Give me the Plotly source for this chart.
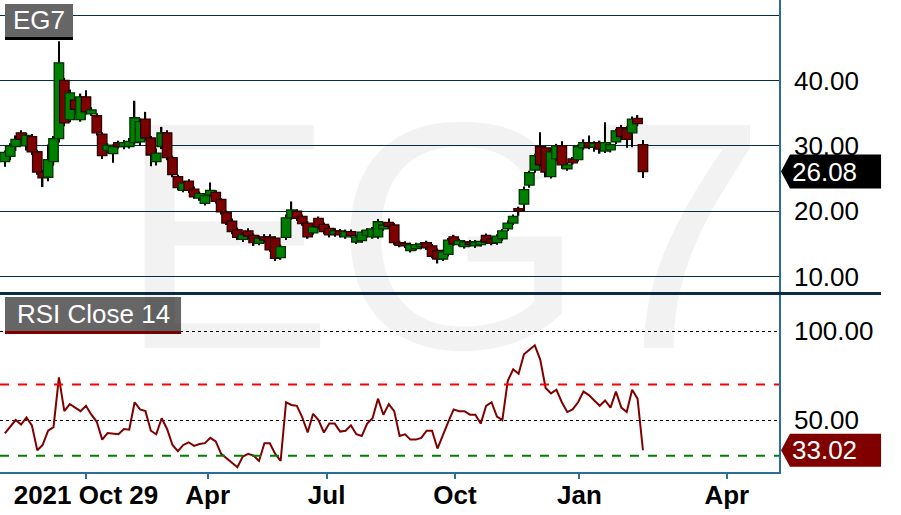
import pandas as pd
import plotly.graph_objects as go
from plotly.subplots import make_subplots

opens = [27.6, 28.4, 29.9, 32.0, 30.0, 31.4, 29.1, 26.0, 25.2, 27.6,
         31.1, 40.0, 34.0, 37.0, 34.0, 37.5, 34.9, 34.6, 31.8, 29.3,
         28.8, 30.5, 29.9, 29.9, 30.5, 30.6, 34.1, 31.2, 27.6, 29.9,
         32.0, 28.2, 25.3, 23.2, 24.6, 23.4, 22.0, 21.2, 22.5, 22.9,
         21.8, 19.8, 18.5, 17.2, 15.7, 17.0, 16.3, 15.1, 16.1, 16.1,
         15.9, 12.9, 16.0, 19.0, 20.0, 19.2, 18.2, 16.7, 18.9, 18.0,
         17.4, 16.5, 17.0, 16.1, 16.9, 15.3, 15.5, 16.3, 16.1, 16.1,
         17.3, 18.3, 17.9, 15.2, 15.1, 14.0, 14.3, 14.6, 15.2, 14.7,
         14.0, 12.7, 13.4, 16.1, 14.9, 14.6, 15.3, 14.7, 14.9, 16.3,
         15.8, 15.2, 15.8, 17.3, 18.2, 20.4, 21.1, 24.0, 26.3, 29.9,
         29.7, 25.3, 28.0, 30.0, 26.5, 28.0, 27.9, 29.7, 30.5, 29.8,
         30.5, 29.2, 29.4, 30.6, 32.8, 32.6, 32.0, 34.2, 30.2]
highs = [29.3, 30.4, 31.6, 32.4, 32.0, 31.8, 29.4, 26.4, 30.2, 31.5,
         46.0, 40.4, 38.6, 37.5, 38.0, 38.5, 35.9, 35.0, 32.1, 30.4,
         30.2, 30.8, 30.9, 31.2, 36.9, 34.2, 35.2, 31.5, 29.6, 32.9,
         32.4, 28.5, 25.6, 24.6, 24.9, 23.8, 23.0, 22.8, 24.4, 23.2,
         22.0, 20.1, 18.9, 17.5, 16.8, 17.4, 16.6, 16.3, 16.5, 16.5,
         16.2, 14.9, 19.5, 21.5, 20.3, 19.5, 18.5, 17.9, 19.2, 18.3,
         17.8, 17.4, 17.3, 17.2, 17.2, 16.4, 17.1, 17.4, 17.6, 18.8,
         18.3, 18.9, 18.2, 15.5, 15.4, 15.2, 15.2, 15.3, 15.5, 15.0,
         14.3, 14.1, 15.9, 16.4, 15.8, 15.6, 15.6, 15.6, 15.7, 16.6,
         16.1, 16.5, 17.3, 18.6, 19.5, 20.7, 23.8, 26.2, 28.8, 32.1,
         30.0, 29.6, 30.3, 30.7, 27.4, 28.3, 30.2, 31.0, 31.6, 30.7,
         30.8, 33.6, 30.5, 32.6, 33.2, 33.0, 34.5, 34.7, 30.9]
lows = [26.8, 27.8, 29.2, 30.2, 29.3, 28.6, 25.6, 23.7, 24.6, 27.0,
        30.5, 33.0, 33.6, 34.8, 33.7, 34.8, 34.6, 31.6, 28.0, 28.9,
        27.4, 29.6, 29.5, 29.6, 30.2, 30.0, 30.8, 26.9, 27.0, 29.5,
        27.8, 25.2, 23.2, 22.9, 22.8, 21.9, 21.6, 20.9, 22.2, 21.2,
        19.5, 17.9, 16.5, 15.6, 15.3, 15.8, 14.7, 14.8, 15.2, 13.8,
        12.4, 12.6, 15.6, 18.7, 18.5, 17.8, 15.8, 16.4, 17.2, 16.5,
        16.0, 16.1, 16.0, 15.8, 16.0, 15.0, 15.2, 16.0, 15.8, 15.8,
        17.0, 17.3, 14.9, 14.5, 14.4, 13.7, 14.0, 14.2, 14.1, 12.8,
        12.0, 12.4, 13.1, 14.7, 14.6, 14.3, 14.6, 14.4, 14.6, 15.0,
        14.8, 14.9, 15.5, 17.0, 17.9, 19.3, 20.0, 23.6, 25.9, 26.8,
        25.2, 25.0, 27.6, 26.5, 26.2, 27.1, 27.6, 29.4, 29.5, 29.1,
        28.8, 28.9, 29.0, 30.3, 30.9, 29.7, 29.8, 33.0, 25.1]
closes = [29.0, 30.0, 31.0, 31.0, 31.6, 29.1, 26.0, 25.1, 27.9, 31.1,
          42.7, 33.5, 38.1, 35.6, 37.5, 35.2, 35.5, 32.0, 28.5, 30.1,
          29.9, 29.9, 30.5, 30.7, 34.3, 33.7, 31.2, 28.6, 28.9, 32.0,
          28.2, 25.6, 23.6, 24.3, 23.2, 22.2, 22.7, 22.4, 23.2, 21.5,
          19.9, 18.2, 16.9, 16.0, 16.4, 16.2, 15.2, 15.9, 15.6, 14.1,
          12.8, 14.6, 19.0, 20.2, 18.9, 18.1, 16.1, 17.6, 17.6, 16.9,
          16.4, 17.0, 16.4, 16.9, 16.3, 16.1, 16.8, 17.1, 17.3, 18.4,
          17.9, 17.7, 15.2, 14.8, 14.7, 14.9, 14.9, 15.0, 14.4, 13.1,
          12.7, 13.8, 15.6, 15.0, 15.5, 15.3, 14.9, 15.3, 15.4, 15.3,
          15.1, 16.2, 17.0, 18.2, 19.2, 20.0, 23.3, 25.9, 28.5, 27.1,
          26.0, 29.1, 30.0, 27.1, 27.1, 27.4, 29.9, 30.5, 29.8, 30.4,
          29.5, 30.5, 30.2, 32.3, 31.4, 31.0, 34.1, 33.4, 26.08]
rsi = [42.5, 46, 50, 47.5, 51.5, 47, 33, 36, 44, 46,
       74, 55, 59, 57, 55, 58, 53, 49, 39, 42.7,
       42.5, 42, 45, 44.6, 60, 56, 55, 44, 42, 51,
       45, 36, 32.5, 36, 37.5, 35.5, 36.5, 37, 40, 38,
       31, 28.5, 26, 23.5, 29.5, 31, 30, 27, 37, 37,
       31, 27, 60, 58.5, 58, 51.5, 43, 53.5, 50, 43,
       48, 48, 43.5, 44, 47, 42, 41, 48, 51, 62,
       53, 59, 55, 41, 42, 39, 39, 40, 44, 44,
       34, 42, 49, 56, 55, 55, 53, 53, 48, 58,
       60, 52, 50, 72, 78.5, 76, 87, 89.5, 92, 84,
       68, 65, 67, 60, 54.5, 56, 60, 66, 64, 61,
       58, 61, 57, 66, 57, 54.5, 67, 62, 33.02]
dates = pd.date_range("2020-11-02", periods=len(closes), freq="4D")

tick_dates = ["2021-01-01", "2021-04-01", "2021-06-28", "2021-10-01", "2022-01-01", "2022-04-20"]
tick_text = ["2021 Oct 29", "Apr", "Jul", "Oct", "Jan", "Apr"]
price_ticks = [10, 20, 30, 40, 50]
price_labels = ["10.00", "20.00", "30.00", "40.00", ""]
rsi_ticks = [50, 100]
rsi_labels = ["50.00", "100.00"]

FONT = "Liberation Sans, Arial, sans-serif"
GRID = "#0a2d44"
AXIS = "#2a6f97"
DAY_MS = 86400000

up = [c >= o for o, c in zip(opens, closes)]
body_fill = ["#008000" if u else "#800000" for u in up]
body_edge = ["#003300" if u else "#2a0000" for u in up]

fig = make_subplots(rows=2, cols=1, shared_xaxes=True)

# wicks as thin bars, bodies as wide bars on top
fig.add_trace(go.Bar(
    x=dates, base=lows, y=[h - l for h, l in zip(highs, lows)],
    width=1.05 * DAY_MS, marker=dict(color="black", line=dict(width=0)),
    showlegend=False, hoverinfo="skip"), row=1, col=1)
fig.add_trace(go.Bar(
    x=dates, base=[min(o, c) for o, c in zip(opens, closes)],
    y=[max(abs(c - o), 0.15) for o, c in zip(opens, closes)],
    width=7.0 * DAY_MS,
    marker=dict(color=body_fill, line=dict(color=body_edge, width=1.3)),
    showlegend=False, hoverinfo="skip"), row=1, col=1)

fig.add_trace(go.Scatter(
    x=dates, y=rsi, mode="lines", line=dict(color="#800000", width=2),
    showlegend=False, hoverinfo="skip"), row=2, col=1)

fig.update_layout(
    width=901, height=515,
    margin=dict(l=0, r=122, t=0, b=43),
    paper_bgcolor="white", plot_bgcolor="white",
    barmode="overlay", showlegend=False,
    font=dict(family=FONT, color="black"),
)

x_range = ["2020-10-29 10:00", "2022-05-28 15:00"]
fig.update_xaxes(range=x_range, showgrid=False, zeroline=False, automargin=False)
fig.update_xaxes(row=1, col=1, showticklabels=False, showline=False, ticks="")
fig.update_xaxes(
    row=2, col=1, tickvals=tick_dates, ticktext=tick_text,
    ticks="outside", ticklen=5, tickwidth=2, tickcolor=AXIS,
    showline=True, linecolor=AXIS, linewidth=1.5, ticklabelstandoff=-6,
    tickfont=dict(size=26, weight="bold", family=FONT, color="black"))

fig.update_yaxes(
    row=1, col=1, domain=[0.38, 1.0], side="right", range=[7.56, 52.3],
    tickvals=price_ticks, ticktext=price_labels,
    showgrid=True, gridcolor=GRID, gridwidth=1, zeroline=False,
    showline=True, linecolor=AXIS, linewidth=1.5, ticks="",
    ticklabelstandoff=8, automargin=False,
    tickfont=dict(size=26, family=FONT, color="black"))
fig.update_yaxes(
    row=2, col=1, domain=[0.0, 0.377], side="right", range=[20.8, 120.8],
    tickvals=rsi_ticks, ticktext=rsi_labels,
    showgrid=True, gridcolor="black", gridwidth=1, griddash="dot",
    zeroline=False, showline=True, linecolor=AXIS, linewidth=1.5, ticks="",
    ticklabelstandoff=8, automargin=False,
    tickfont=dict(size=26, family=FONT, color="black"))

# watermark
fig.add_annotation(
    text="EG7", xref="paper", yref="paper", x=0.568, y=0.50,
    xanchor="center", yanchor="middle", showarrow=False,
    font=dict(size=324, family=FONT, color="rgba(0,0,0,0.05)"))

# RSI overbought / oversold
fig.add_hline(y=70, line=dict(color="#ff0000", width=2, dash="dash"), row=2, col=1)
fig.add_hline(y=30, line=dict(color="#008000", width=2, dash="dash"), row=2, col=1)

# separator between panels
fig.add_shape(type="line", xref="paper", yref="paper", x0=0, x1=1.131,
              y0=0.378, y1=0.378, line=dict(color=GRID, width=3))

# panel title boxes
fig.add_shape(type="rect", xref="paper", yref="paper", x0=0.0064, x1=0.0937,
              y0=0.9216, y1=0.9915, fillcolor="#666666", line=dict(width=0))
fig.add_shape(type="rect", xref="paper", yref="paper", x0=0.0064, x1=0.0937,
              y0=0.9153, y1=0.9216, fillcolor="black", line=dict(width=0))
fig.add_annotation(text="EG7", xref="paper", yref="paper", x=0.050, y=0.9566,
                   xanchor="center", yanchor="middle", showarrow=False,
                   font=dict(size=26, family=FONT, color="white"))
fig.add_shape(type="rect", xref="paper", yref="paper", x0=0.0064, x1=0.2324,
              y0=0.2987, y1=0.3708, fillcolor="#666666", line=dict(width=0))
fig.add_shape(type="rect", xref="paper", yref="paper", x0=0.0064, x1=0.2324,
              y0=0.2924, y1=0.2987, fillcolor="#800000", line=dict(width=0))
fig.add_annotation(text="RSI Close 14", xref="paper", yref="paper", x=0.1194, y=0.3347,
                   xanchor="center", yanchor="middle", showarrow=False,
                   font=dict(size=26, family=FONT, color="white"))


def value_tag(value, yref, half, color):
    top, bot = value + half, value - half
    fig.add_shape(
        type="path", xref="paper", yref=yref,
        path=f"M 1.0026 {value} L 1.0141 {top} L 1.131 {top} L 1.131 {bot} L 1.0141 {bot} Z",
        fillcolor=color, line=dict(width=0))
    fig.add_annotation(text=f"{value:.2f}", xref="paper", yref=yref, x=1.0141, y=value,
                       xanchor="left", yanchor="middle", showarrow=False,
                       font=dict(size=26, family=FONT, color="white"))


value_tag(closes[-1], "y", 2.6, "black")
value_tag(rsi[-1], "y2", 9.3, "#800000")

# drop the browser's default page margin so the figure sits at the window corner
fig.write_html("out.html", config={"displayModeBar": False},
               post_script="document.body.style.margin='0';")
